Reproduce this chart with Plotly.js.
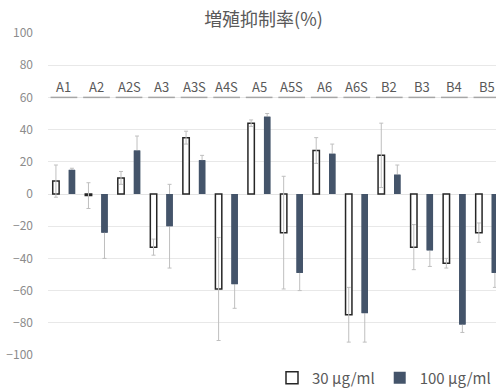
<!DOCTYPE html>
<html>
<head>
<meta charset="utf-8">
<script src="https://cdn.plot.ly/plotly-3.0.1.min.js"></script>
<style>html,body{margin:0;padding:0;background:#fff;}#chart{width:496px;height:389px;}</style>
</head>
<body>
<div id="chart"></div>
<script>
const categories = ['A1','A2','A2S','A3','A3S','A4S','A5','A5S','A6','A6S','B2','B3','B4','B5'];
const values30 = [8, -1, 10, -33, 35, -59, 44, -24, 27, -75, 24, -33, -43, -24];
const err30 = [10, 8, 4, 5, 4, 32, 2, 35, 8, 17, 20, 14, 3, 6];
const values100 = [15, -24, 27, -20, 21, -56, 48, -49, 25, -74, 12, -35, -81, -49];
const err100 = [1, 16, 9, 26, 3, 15, 2, 11, 6, 18, 6, 10, 5, 9];
const seriesNames = ['30 µg/ml', '100 µg/ml'];
const titleText = '増殖抑制率(%)';
const labelLevel = 60;

const font = '"Noto Sans CJK JP", "Noto Sans", sans-serif';
const errStyle = {color: '#BFBFBF', thickness: 1, width: 2};

const traces = [
  {type: 'bar', name: seriesNames[0], x: categories, y: values30, offsetgroup: 'a',
   marker: {color: '#FFFFFF', line: {color: '#262626', width: 1.5}},
   error_y: Object.assign({type: 'data', array: err30, visible: true}, errStyle)},
  // error bars for the 100 series, drawn beneath the solid bars
  {type: 'bar', name: seriesNames[1], x: categories, y: values100, offsetgroup: 'b',
   showlegend: false, marker: {color: '#44546A', line: {width: 0}},
   error_y: Object.assign({type: 'data', array: err100, visible: true}, errStyle)},
  {type: 'bar', name: seriesNames[1], x: categories, y: values100, offsetgroup: 'b',
   marker: {color: '#44546A', line: {width: 0}}}
];

const annotations = categories.map((c, i) => ({
  x: i, y: labelLevel + 7, xref: 'x', yref: 'y', text: c, showarrow: false,
  font: {family: font, size: 13, color: '#595959'}, xanchor: 'center', yanchor: 'middle'
}));
const shapes = categories.map((c, i) => ({
  type: 'line', xref: 'x', yref: 'y', x0: i - 0.41, x1: i + 0.41, y0: labelLevel, y1: labelLevel,
  line: {color: '#A6A6A6', width: 1.5}
}));

const layout = {
  width: 496, height: 389,
  margin: {l: 48, r: 0, t: 33, b: 34, pad: 0, autoexpand: false},
  paper_bgcolor: '#FFFFFF', plot_bgcolor: '#FFFFFF',
  font: {family: font, color: '#7F7F7F'},
  title: {text: titleText, font: {family: font, size: 18, color: '#595959'},
          x: 263.5/496, xref: 'container', xanchor: 'center', y: 1 - 20/389, yanchor: 'middle', yref: 'container'},
  barmode: 'group', bargap: 0.015, bargroupgap: 0.6,
  xaxis: {type: 'category', range: [-0.49, 13.28], showticklabels: false, showgrid: false,
          zeroline: false, showline: false, ticks: ''},
  yaxis: {range: [-100, 100], dtick: 20, showgrid: true, gridcolor: '#E8E8E8', gridwidth: 1,
          zeroline: true, zerolinecolor: '#E3E3E3', zerolinewidth: 1, showline: false, ticks: '',
          ticklabelstandoff: 14,
          tickfont: {family: font, size: 12, color: '#8C8C8C'}},
  showlegend: true,
  legend: {orientation: 'h', x: 1, xanchor: 'right', xref: 'container',
           y: 1 - 378/389, yanchor: 'middle', yref: 'container',
           font: {family: font, size: 15, color: '#595959'}, bgcolor: 'rgba(0,0,0,0)',
           traceorder: 'normal'},
  annotations: annotations,
  shapes: shapes
};

Plotly.newPlot('chart', traces, layout, {displayModeBar: false, staticPlot: true});
</script>
</body>
</html>
